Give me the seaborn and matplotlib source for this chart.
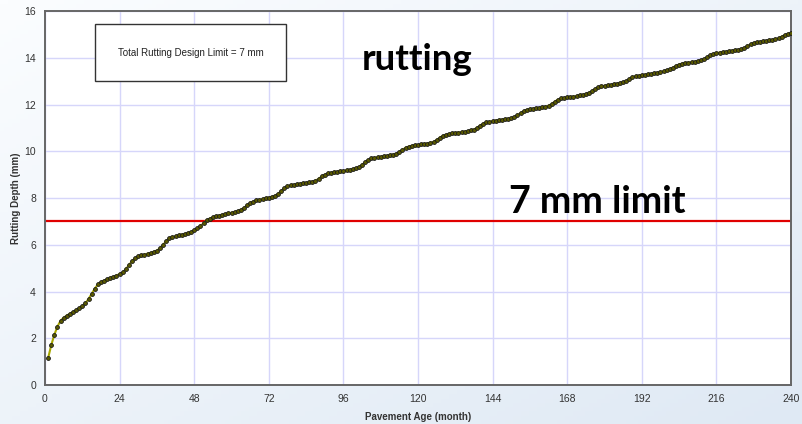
import matplotlib
matplotlib.use("Agg")
import matplotlib.pyplot as plt
import seaborn as sns
import pandas as pd
import numpy as np
from matplotlib.patches import Rectangle

months = list(range(1, 241))
rutting = [
    1.15, 1.70, 2.15, 2.50, 2.75, 2.88, 2.97, 3.05, 3.12, 3.20, 3.28, 3.38,
    3.50, 3.68, 3.90, 4.12, 4.30, 4.40, 4.47, 4.52, 4.58, 4.63, 4.68, 4.75,
    4.82, 4.95, 5.13, 5.30, 5.42, 5.50, 5.55, 5.58, 5.62, 5.65, 5.70, 5.75,
    5.85, 6.00, 6.15, 6.27, 6.32, 6.36, 6.40, 6.43, 6.46, 6.50, 6.55, 6.62,
    6.70, 6.80, 6.92, 7.05, 7.12, 7.17, 7.21, 7.25, 7.28, 7.31, 7.34, 7.37,
    7.40, 7.44, 7.50, 7.58, 7.68, 7.78, 7.85, 7.90, 7.93, 7.96, 7.99, 8.02,
    8.05, 8.10, 8.18, 8.30, 8.42, 8.50, 8.55, 8.57, 8.59, 8.61, 8.63, 8.65,
    8.67, 8.70, 8.74, 8.82, 8.92, 9.00, 9.05, 9.08, 9.10, 9.12, 9.14, 9.16,
    9.18, 9.21, 9.24, 9.27, 9.32, 9.42, 9.53, 9.63, 9.69, 9.72, 9.74, 9.76,
    9.78, 9.80, 9.83, 9.86, 9.90, 9.97, 10.06, 10.15, 10.20, 10.23, 10.25, 10.27,
    10.29, 10.31, 10.33, 10.36, 10.40, 10.48, 10.58, 10.66, 10.71, 10.74, 10.76, 10.78,
    10.80, 10.82, 10.84, 10.86, 10.89, 10.93, 11.01, 11.10, 11.18, 11.23, 11.26, 11.29,
    11.31, 11.33, 11.35, 11.37, 11.39, 11.42, 11.46, 11.54, 11.64, 11.72, 11.77, 11.80,
    11.82, 11.84, 11.86, 11.88, 11.91, 11.95, 12.02, 12.12, 12.21, 12.26, 12.28, 12.30,
    12.32, 12.34, 12.36, 12.39, 12.42, 12.45, 12.50, 12.58, 12.67, 12.74, 12.78, 12.80,
    12.82, 12.84, 12.86, 12.89, 12.92, 12.95, 13.00, 13.09, 13.17, 13.21, 13.23, 13.25,
    13.27, 13.29, 13.31, 13.33, 13.36, 13.39, 13.42, 13.46, 13.50, 13.58, 13.65, 13.71,
    13.75, 13.77, 13.79, 13.81, 13.83, 13.86, 13.89, 13.94, 14.02, 14.10, 14.16, 14.20,
    14.22, 14.24, 14.26, 14.28, 14.30, 14.32, 14.34, 14.37, 14.42, 14.50, 14.58, 14.63,
    14.66, 14.68, 14.70, 14.72, 14.74, 14.76, 14.79, 14.83, 14.90, 14.97, 15.02, 15.05,
]
limit_mm = 7
x_ticks = list(range(0, 241, 24))
y_ticks = list(range(0, 17, 2))
box_text = "Total Rutting Design Limit = 7 mm"
title_text = "rutting"
limit_text = "7 mm limit"
x_label = "Pavement Age (month)"
y_label = "Rutting Depth (mm)"

sns.set_style("white")
plt.rcParams["font.family"] = ["Liberation Sans", "DejaVu Sans"]

df = pd.DataFrame({"month": months, "rutting": rutting})

W, H = 802, 424
fig = plt.figure(figsize=(W / 100, H / 100), dpi=100)
fig.patch.set_facecolor("#eef3f9")

# background gradient
bg = fig.add_axes([0, 0, 1, 1], zorder=-10)
gx = np.linspace(0, 1, 200)
gy = np.linspace(0, 1, 100)
GX, GY = np.meshgrid(gx, gy)
grad = 0.5 * GX + 0.5 * GY
bg.imshow(grad, cmap=matplotlib.colors.LinearSegmentedColormap.from_list(
    "bgc", ["#fbfdff", "#dfe9f4"]), aspect="auto", extent=[0, 1, 0, 1], origin="upper")
bg.axis("off")

ax = fig.add_axes([45 / W, 1 - 385 / H, (791 - 45) / W, (385 - 11) / H])
ax.set_facecolor("white")

sns.lineplot(data=df, x="month", y="rutting", ax=ax, color="#a8a800", linewidth=1.5,
             marker="o", markersize=2.8, markerfacecolor="#5a5a00",
             markeredgecolor="#1a1a1a", markeredgewidth=0.6, zorder=3)
ax.axhline(limit_mm, color="#e00000", linewidth=1.6, zorder=2)

ax.set_xlim(0, 240)
ax.set_ylim(0, 16)
ax.set_xticks(x_ticks)
ax.set_yticks(y_ticks)
ax.grid(True, color="#d6d6fa", linewidth=1.0)
ax.set_axisbelow(True)
for s in ax.spines.values():
    s.set_color("#666666")
    s.set_linewidth(1.4)
ax.tick_params(axis="both", labelsize=7.5, colors="#333333", length=3, width=1, direction="out")
ax.set_xlabel(x_label, fontsize=7, fontweight="bold", color="#333333", labelpad=6)
ax.set_ylabel(y_label, fontsize=7, fontweight="bold", color="#333333", labelpad=2)

# text box
fig.patches.append(Rectangle((95 / W, 1 - 81 / H), (286 - 95) / W, (81 - 24) / H,
                             transform=fig.transFigure, facecolor="white",
                             edgecolor="#333333", linewidth=1.0, zorder=5))
fig.text((95 + 286) / 2 / W, 1 - 53 / H, box_text, ha="center", va="center",
         fontsize=7, color="#222222", zorder=6)

fig.text(417 / W, 1 - 59 / H, title_text, ha="center", va="center", fontsize=26.5,
         fontweight="bold", family=["Lato", "DejaVu Sans"], color="black")
fig.text(597 / W, 1 - 202 / H, limit_text, ha="center", va="center", fontsize=27,
         fontweight="bold", family=["Lato", "DejaVu Sans"], color="black")

fig.savefig("out.png", dpi=100, facecolor=fig.get_facecolor())
